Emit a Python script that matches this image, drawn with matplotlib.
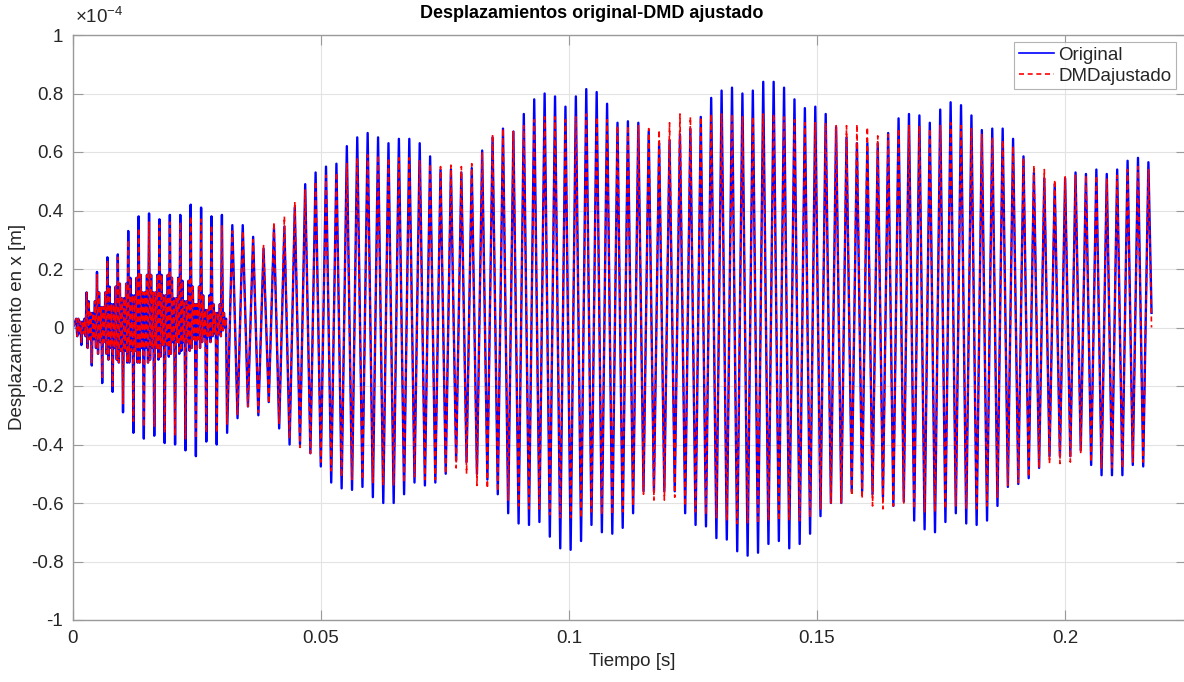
import numpy as np
import matplotlib
matplotlib.use("Agg")
import matplotlib.pyplot as plt

plt.rcParams['font.family'] = ['Liberation Sans', 'DejaVu Sans']
plt.rcParams['mathtext.default'] = 'regular'

# ---------------- data (displacement in units of 1e-4 m) ----------------
# time of first positive peak and oscillation period [s]
t_peak0 = 0.00064
period = 0.0020988

# Original signal: successive positive peaks and the negative peak after each
orig_upper = [0.03, 0.12, 0.19, 0.24, 0.25, 0.33, 0.38, 0.39, 0.37, 0.385,
              0.385, 0.42, 0.41, 0.38, 0.385, 0.35, 0.35, 0.31, 0.27, 0.34,
              0.345, 0.41, 0.49, 0.53, 0.55, 0.56, 0.62, 0.65, 0.665, 0.65,
              0.63, 0.645, 0.645, 0.63, 0.585, 0.54, 0.54, 0.53, 0.545, 0.605,
              0.65, 0.68, 0.67, 0.73, 0.78, 0.80, 0.79, 0.755, 0.79, 0.815,
              0.805, 0.765, 0.70, 0.705, 0.70, 0.67, 0.63, 0.64, 0.66, 0.68,
              0.72, 0.785, 0.81, 0.82, 0.80, 0.81, 0.84, 0.84, 0.82, 0.78,
              0.75, 0.755, 0.73, 0.685, 0.65, 0.63, 0.63, 0.63, 0.665, 0.715,
              0.73, 0.725, 0.70, 0.745, 0.77, 0.76, 0.725, 0.675, 0.68, 0.68,
              0.645, 0.585, 0.53, 0.51, 0.49, 0.51, 0.53, 0.525, 0.54, 0.525,
              0.54, 0.57, 0.58, 0.565]
orig_lower = [-0.06, -0.13, -0.19, -0.22, -0.29, -0.36, -0.38, -0.37, -0.395, -0.40,
              -0.42, -0.44, -0.39, -0.40, -0.36, -0.31, -0.27, -0.30, -0.255, -0.345,
              -0.40, -0.40, -0.43, -0.475, -0.53, -0.55, -0.555, -0.545, -0.58, -0.60,
              -0.60, -0.57, -0.53, -0.54, -0.53, -0.50, -0.455, -0.46, -0.50, -0.52,
              -0.57, -0.635, -0.67, -0.675, -0.665, -0.715, -0.755, -0.76, -0.73, -0.675,
              -0.70, -0.705, -0.685, -0.635, -0.56, -0.56, -0.56, -0.56, -0.635, -0.675,
              -0.68, -0.72, -0.725, -0.765, -0.78, -0.77, -0.74, -0.73, -0.755, -0.74,
              -0.705, -0.645, -0.60, -0.60, -0.56, -0.56, -0.57, -0.58, -0.61, -0.595,
              -0.66, -0.69, -0.70, -0.665, -0.635, -0.67, -0.675, -0.66, -0.61, -0.545,
              -0.535, -0.515, -0.48, -0.44, -0.44, -0.44, -0.42, -0.47, -0.505, -0.505,
              -0.505, -0.47, -0.475]
orig_end = 0.05

# DMD-adjusted reconstruction
dmd_upper = [0.03, 0.12, 0.18, 0.23, 0.24, 0.30, 0.34, 0.36, 0.35, 0.36,
             0.36, 0.38, 0.37, 0.35, 0.35, 0.33, 0.33, 0.30, 0.28, 0.36,
             0.38, 0.43, 0.47, 0.50, 0.52, 0.53, 0.56, 0.58, 0.59, 0.59,
             0.58, 0.58, 0.58, 0.57, 0.56, 0.55, 0.555, 0.55, 0.56, 0.60,
             0.66, 0.68, 0.67, 0.69, 0.71, 0.72, 0.72, 0.71, 0.72, 0.73,
             0.72, 0.71, 0.69, 0.69, 0.69, 0.68, 0.675, 0.70, 0.73, 0.72,
             0.72, 0.73, 0.73, 0.73, 0.72, 0.72, 0.73, 0.73, 0.72, 0.71,
             0.70, 0.70, 0.70, 0.69, 0.69, 0.695, 0.685, 0.655, 0.66, 0.68,
             0.69, 0.69, 0.68, 0.69, 0.70, 0.69, 0.68, 0.66, 0.65, 0.64,
             0.62, 0.58, 0.555, 0.54, 0.505, 0.515, 0.52, 0.52, 0.52, 0.51,
             0.52, 0.54, 0.55, 0.54]
dmd_lower = [-0.05, -0.12, -0.17, -0.20, -0.26, -0.32, -0.34, -0.34, -0.36, -0.37,
             -0.38, -0.38, -0.36, -0.36, -0.33, -0.30, -0.27, -0.29, -0.26, -0.33,
             -0.38, -0.41, -0.43, -0.46, -0.49, -0.51, -0.52, -0.52, -0.53, -0.54,
             -0.54, -0.53, -0.51, -0.52, -0.52, -0.50, -0.48, -0.50, -0.54, -0.55,
             -0.56, -0.59, -0.61, -0.62, -0.62, -0.64, -0.65, -0.65, -0.65, -0.63,
             -0.64, -0.64, -0.63, -0.61, -0.57, -0.59, -0.59, -0.58, -0.61, -0.63,
             -0.64, -0.65, -0.66, -0.67, -0.67, -0.67, -0.66, -0.66, -0.66, -0.66,
             -0.65, -0.62, -0.60, -0.60, -0.575, -0.585, -0.61, -0.62, -0.61, -0.60,
             -0.62, -0.63, -0.63, -0.62, -0.61, -0.62, -0.62, -0.61, -0.58, -0.54,
             -0.53, -0.51, -0.48, -0.465, -0.465, -0.46, -0.43, -0.46, -0.48, -0.48,
             -0.48, -0.46, -0.46]
dmd_end = 0.0

# dense high-frequency band in the first cycles: outer and inner swing levels
band_hi = [0.03, 0.09, 0.12, 0.14, 0.15, 0.17, 0.18, 0.18, 0.18, 0.17, 0.16, 0.14, 0.11, 0.08, 0.05]
band_lo = [-0.03, -0.07, -0.09, -0.11, -0.12, -0.12, -0.12, -0.11, -0.10, -0.09, -0.08, -0.07, -0.05, -0.03, -0.01]
band_hi_in = [0.02, 0.05, 0.07, 0.08, 0.10, 0.11, 0.12, 0.12, 0.11, 0.10, 0.09, 0.08, 0.06, 0.05, 0.03]
band_lo_in = [-0.02, -0.04, -0.05, -0.07, -0.08, -0.08, -0.07, -0.07, -0.06, -0.05, -0.05, -0.04, -0.03, -0.02, 0.0]

title = 'Desplazamientos original-DMD ajustado'
xlabel = 'Tiempo [s]'
ylabel = 'Desplazamiento en x [m]'
series_names = ['Original', 'DMDajustado']
xticks = [0, 0.05, 0.1, 0.15, 0.2]
xticklabels = ['0', '0.05', '0.1', '0.15', '0.2']
yticks = [-1, -0.8, -0.6, -0.4, -0.2, 0, 0.2, 0.4, 0.6, 0.8, 1]
yticklabels = ['-1', '-0.8', '-0.6', '-0.4', '-0.2', '0', '0.2', '0.4', '0.6', '0.8', '1']


def build(upper, lower, end):
    t = [0.0]
    y = [0.0]
    h = period / 2.0
    nb = len(band_hi)
    for i, u in enumerate(upper):
        tu = t_peak0 + i * period
        if 0 < i < nb:  # rising stroke: trough -> swings in band -> peak
            lv = [band_hi_in[i - 1], band_lo_in[i - 1], band_hi[i - 1], band_lo[i - 1]]
            for j, v in enumerate(lv):
                t.append(tu - h + h * (j + 1) / (len(lv) + 1))
                y.append(v)
        t.append(tu)
        y.append(u)
        if i < len(lower):
            if i < nb:  # falling stroke: peak -> swings in band -> trough
                lv = [band_lo[i], band_hi[i], band_lo_in[i], band_hi_in[i]]
                for j, v in enumerate(lv):
                    t.append(tu + h * (j + 1) / (len(lv) + 1))
                    y.append(v)
            t.append(tu + h)
            y.append(lower[i])
        else:
            t.append(tu + period * 0.3)
            y.append(end)
    return np.array(t), np.array(y)


t_o, y_o = build(orig_upper, orig_lower, orig_end)
t_d, y_d = build(dmd_upper, dmd_lower, dmd_end)

W, H = 1184, 682
fig = plt.figure(figsize=(W / 100, H / 100), dpi=100)
x0, x1 = 73, 1186
y_top, y_bot = 35, 620
ax = fig.add_axes([x0 / W, 1 - y_bot / H, (x1 - x0) / W, (y_bot - y_top) / H])

txt = '#262626'
axcol = '#9a9a9a'

ax.plot(t_o, y_o, color='#0000ff', lw=1.7, label=series_names[0])
ax.plot(t_d, y_d, color='#ff0000', lw=1.2, ls=(0, (3.0, 2.2)), label=series_names[1])

ax.set_xlim(0, (x1 - x0) / 4960.0)
ax.set_ylim(-1, 1)
ax.set_xticks(xticks)
ax.set_xticklabels(xticklabels)
ax.set_yticks(yticks)
ax.set_yticklabels(yticklabels)
ax.grid(True, color='#e3e3e3', lw=0.8)
ax.set_axisbelow(True)
ax.tick_params(direction='in', length=7, width=0.8, top=True, right=True,
               color=axcol, labelcolor=txt, labelsize=13.5, pad=7)
for s in ax.spines.values():
    s.set_color(axcol)
    s.set_linewidth(1.0)

fig.text(592 / W, 1 - 13 / H, title, ha='center', va='center',
         fontsize=13, fontweight='bold', color='black')
fig.text(632 / W, 1 - 662 / H, xlabel, ha='center', va='center', fontsize=13.5, color=txt)
fig.text(18 / W, 1 - 327 / H, ylabel, ha='center', va='center', rotation=90,
         fontsize=13.5, color=txt)
fig.text(75 / W, 1 - 17 / H, r'$\times10^{-4}$', ha='left', va='center',
         fontsize=13.5, color=txt)

leg = ax.legend(loc='upper right', bbox_to_anchor=(1176 / W, 1 - 42 / H),
                bbox_transform=fig.transFigure, fontsize=13.5, frameon=True,
                fancybox=False, edgecolor='#a0a0a0', handlelength=1.9,
                handletextpad=0.2, borderpad=0.25, labelspacing=0.2,
                borderaxespad=0)
leg.get_frame().set_linewidth(0.8)
for tx in leg.get_texts():
    tx.set_color(txt)
for ln in leg.get_lines():
    ln.set_linewidth(1.2)

fig.savefig('out.png', dpi=100)
